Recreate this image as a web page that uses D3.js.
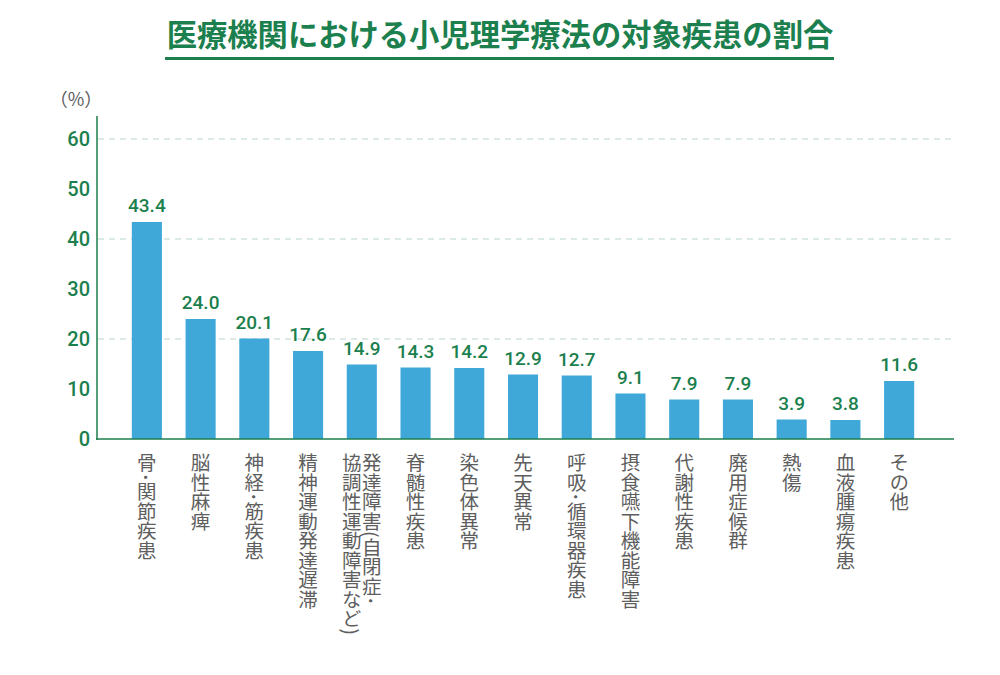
<!DOCTYPE html>
<html>
<head>
<meta charset="utf-8">
<script src="https://cdn.jsdelivr.net/npm/d3@7"></script>
<style>
  body { margin: 0; background: #fff; }
  svg { display: block; font-family: "Noto Sans CJK JP", "Noto Sans", sans-serif; }
</style>
</head>
<body>
<div id="chart"></div>
<script>
// data
var categories = ["骨･関節疾患", "脳性麻痺", "神経･筋疾患", "精神運動発達遅滞",
    "発達障害(自閉症･|協調性運動障害など)", "脊髄性疾患", "染色体異常", "先天異常",
    "呼吸･循環器疾患", "摂食嚥下機能障害", "代謝性疾患", "廃用症候群", "熱傷",
    "血液腫瘍疾患", "その他"];
var values = [43.4, 24.0, 20.1, 17.6, 14.9, 14.3, 14.2, 12.9, 12.7, 9.1, 7.9, 7.9, 3.9, 3.8, 11.6];
var yTicks = [0, 10, 20, 30, 40, 50, 60];
var gridTicks = [20, 40, 60];

var W = 1000, H = 675;
var green = "#1b7f4e", blue = "#3fa8d8", grey = "#5e5e5e";

var svg = d3.select("#chart")
    .append("svg")
    .attr("width", W)
    .attr("height", H)

// title
svg.append("text")
    .attr("x", 500)
    .attr("y", 46)
    .attr("text-anchor", "middle")
    .style("font-size", "30.3px")
    .style("font-weight", "bold")
    .style("fill", green)
    .text("医療機関における小児理学療法の対象疾患の割合");

svg.append("rect")
    .attr("x", 165)
    .attr("y", 57)
    .attr("width", 669)
    .attr("height", 3)
    .style("fill", green);

var x = d3.scaleBand()
    .domain(categories)
    .range([120, 926])
    .paddingInner(0.44)
    .paddingOuter(0.22);

var y = d3.scaleLinear()
    .domain([0, 60])
    .range([439, 139]);

// dashed grid
svg.selectAll(".grid")
    .data(gridTicks)
    .enter()
    .append("line")
    .attr("class", "grid")
    .attr("x1", 98)
    .attr("x2", 955)
    .attr("y1", function(d){ return y(d) })
    .attr("y2", function(d){ return y(d) })
    .style("stroke", "#cfe5dc")
    .style("stroke-width", 1.5)
    .style("stroke-dasharray", "6,5");

// bars
svg.selectAll(".bar")
    .data(values)
    .enter()
    .append("rect")
    .attr("class", "bar")
    .attr("x", function(d, i){ return x(categories[i]) })
    .attr("y", function(d){ return y(d) })
    .attr("width", x.bandwidth())
    .attr("height", function(d){ return y(0) - y(d) })
    .style("fill", blue);

// value labels
svg.selectAll(".val")
    .data(values)
    .enter()
    .append("text")
    .attr("class", "val")
    .attr("x", function(d, i){ return x(categories[i]) + x.bandwidth() / 2 })
    .attr("y", function(d){ return y(d) - 10 })
    .attr("text-anchor", "middle")
    .style("font-family", "Roboto, 'Noto Sans', sans-serif")
    .style("font-size", "19px")
    .style("font-weight", 500)
    .style("fill", green)
    .text(function(d){ return d.toFixed(1) });

// axes
var yAxis = d3.axisLeft(y).tickValues(yTicks).tickSize(0).tickPadding(7);
var gy = svg.append("g")
    .attr("transform", "translate(97,0)")
    .call(yAxis);
gy.select(".domain").remove();
gy.selectAll("text")
    .style("font-family", "Roboto, 'Noto Sans', sans-serif")
    .style("font-size", "20px")
    .style("font-weight", 500)
    .style("fill", green);

svg.append("line")
    .attr("x1", 97).attr("x2", 97)
    .attr("y1", 116).attr("y2", 440)
    .style("stroke", green)
    .style("stroke-width", 1.5);

svg.append("line")
    .attr("x1", 96).attr("x2", 954)
    .attr("y1", 439).attr("y2", 439)
    .style("stroke", green)
    .style("stroke-width", 1.5);

svg.append("text")
    .attr("x", 76)
    .attr("y", 106)
    .attr("text-anchor", "middle")
    .style("font-size", "18px")
    .style("fill", grey)
    .text("（%）");

// vertical category labels
var cat = svg.selectAll(".cat")
    .data(categories)
    .enter()
    .append("g")
    .attr("class", "cat");

cat.each(function(d, i){
    var cols = d.split("|");
    var cx = x(d) + x.bandwidth() / 2;
    var g = d3.select(this);
    cols.forEach(function(c, j){
        var off = cols.length > 1 ? (j === 0 ? 10 : -10) : 0;
        g.append("text")
            .attr("x", cx + off)
            .attr("y", 453)
            .style("writing-mode", "vertical-rl")
            .style("font-size", "19.5px")
            .style("fill", grey)
            .text(c);
    });
});
</script>
</body>
</html>
